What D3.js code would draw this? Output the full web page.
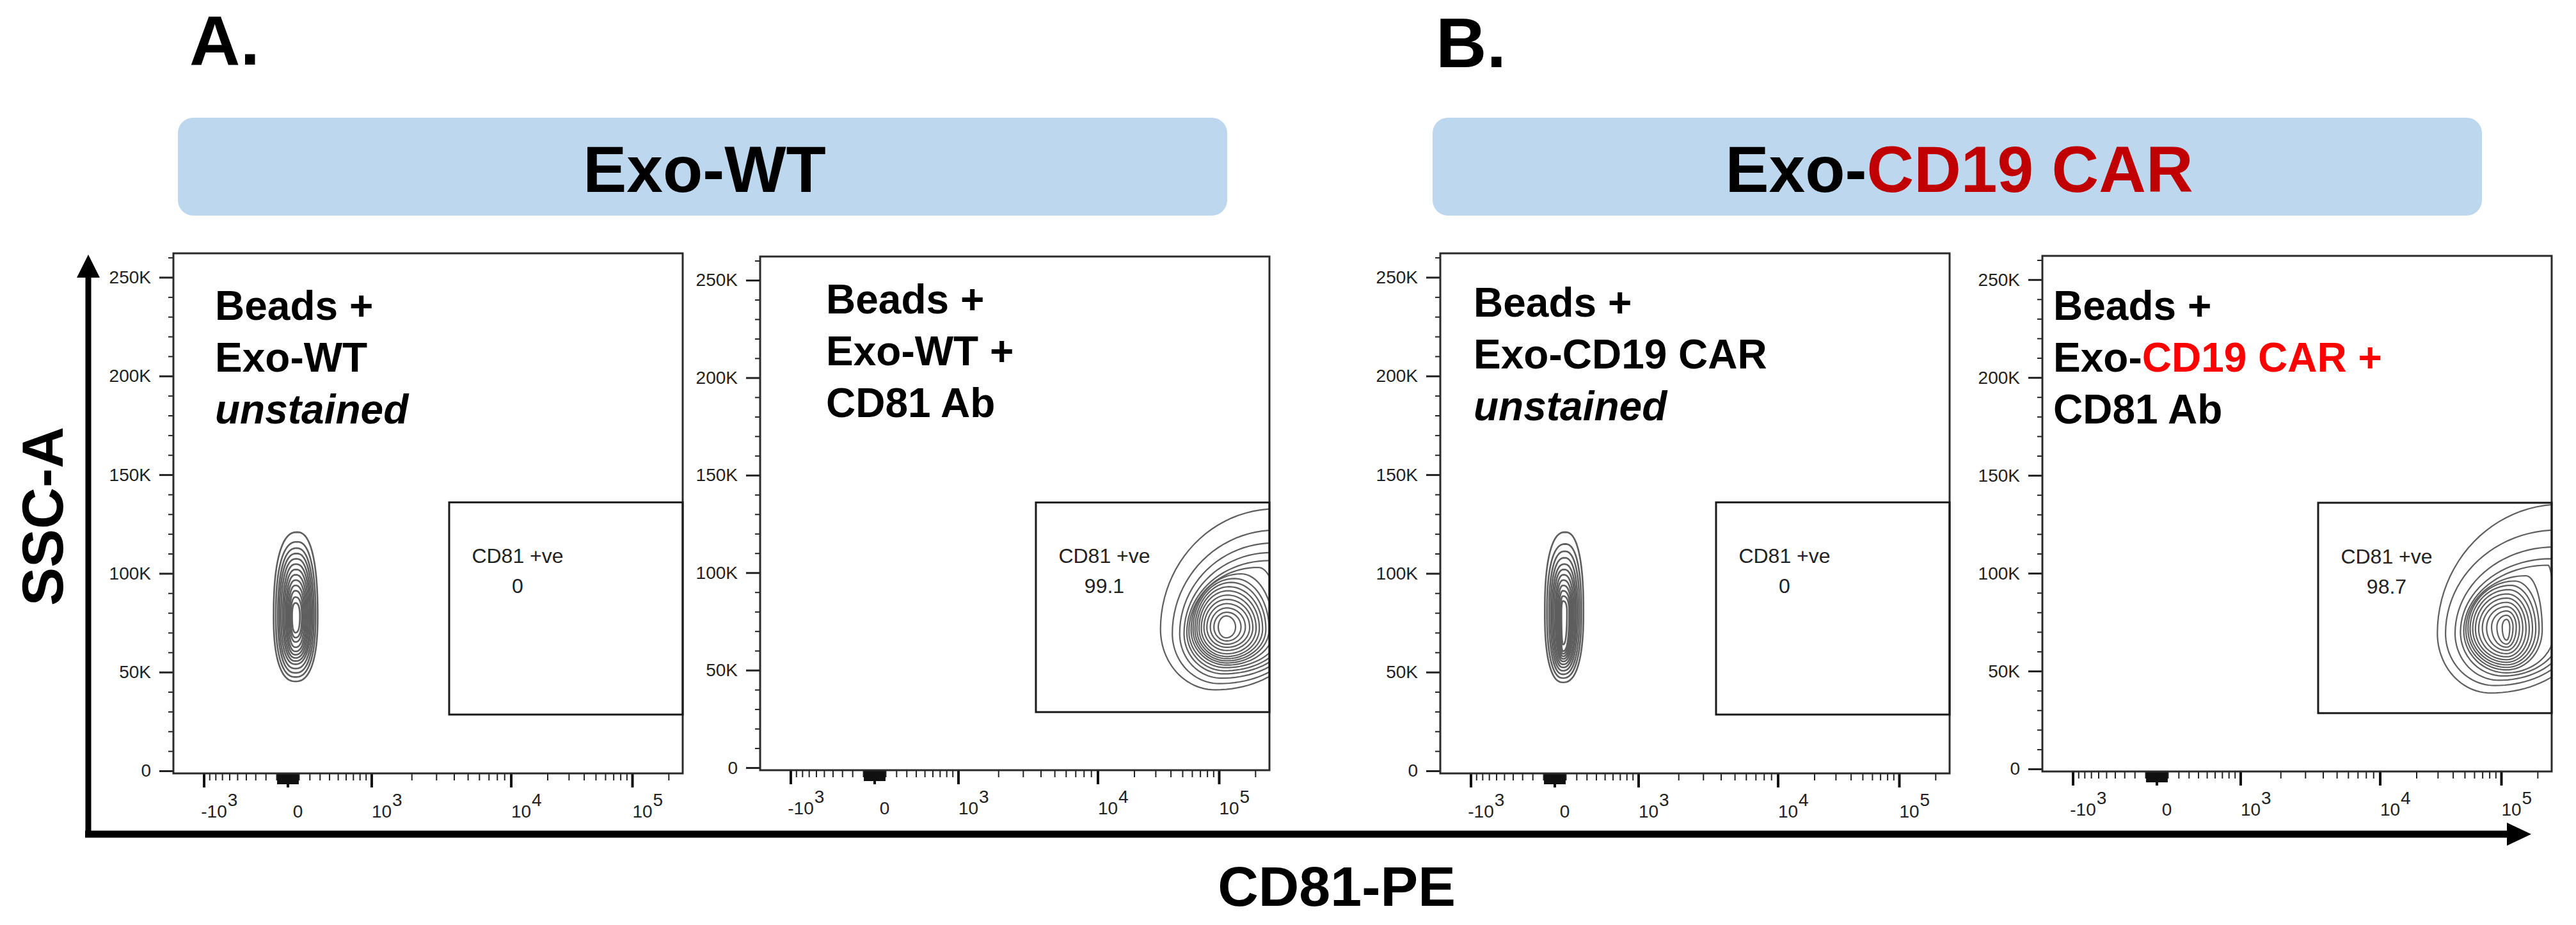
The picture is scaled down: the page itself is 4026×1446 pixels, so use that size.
<!DOCTYPE html>
<html>
<head>
<meta charset="utf-8">
<script src="https://cdn.jsdelivr.net/npm/d3@7"></script>
<style>
  html, body { margin: 0; padding: 0; background: #fff; }
  svg { display: block; font-family: "Liberation Sans", Arial, Helvetica, sans-serif; }
</style>
</head>
<body>
<div id="chart"></div>
<script>
// ---------- data ----------
const groupLetters = ['A.', 'B.'];
const headerMain = ['Exo-WT', 'Exo-'];
const headerRed = ['', 'CD19 CAR'];

const sampleLines = [
  ['Beads +', 'Exo-WT', 'unstained'],
  ['Beads +', 'Exo-WT +', 'CD81 Ab'],
  ['Beads +', 'Exo-CD19 CAR', 'unstained'],
  ['Beads +', 'Exo-CD19 CAR +', 'CD81 Ab']
];
const redPart = [null, null, null, 'CD19 CAR +'];

const gateName = 'CD81 +ve';
const gatePercent = ['0', '99.1', '0', '98.7'];
const gateX = [3700, 262144];     // CD81-PE
const gateY = [28500, 136000];    // SSC-A

const yDomain = [-1300, 262144];
const yTicks = [0, 50000, 100000, 150000, 200000, 250000];
const yTickLabels = ['0', '50K', '100K', '150K', '200K', '250K'];

const xStops = [-1720, -1000, 0, 1000, 10000, 100000, 262144];
const xTicks = [-1000, 0, 1000, 10000, 100000];
const xTickBase = ['-10', '0', '10', '10', '10'];
const xTickExp = ['3', '', '3', '4', '5'];

// contour rings: [xLeft, xRight, yBottom, yTop, xAtTop, xAtBottom, yAtSides]
const wtUnstainedRings = [
  [-126, 279, 45300, 120900, 85, 71, 78300],
  [-106, 258, 47500, 116000, 85, 71, 78300],
  [-87, 241, 49600, 112800, 80, 71, 78300],
  [-73, 226, 51800, 110100, 80, 71, 78300],
  [-58, 212, 54000, 107400, 78, 71, 78300],
  [-42, 200, 55600, 104700, 75, 71, 78300],
  [-29, 187, 57200, 102000, 75, 71, 78300],
  [-15, 175, 58800, 99300, 72, 71, 78300],
  [-4, 163, 60500, 96600, 72, 71, 78300],
  [8, 151, 62600, 93900, 71, 71, 78300],
  [19, 139, 65300, 91200, 71, 71, 78300],
  [29, 128, 67500, 88000, 71, 71, 78300],
  [40, 110, 70000, 85000, 71, 71, 78300]
];
const wtStainedRings = [
  [33000, 483500, 39900, 132700, 294700, 92900, 71000],
  [41300, 445600, 43100, 121800, 294700, 100800, 68800],
  [47500, 410000, 45900, 115200, 282900, 105100, 68800],
  [51600, 377300, 48100, 110300, 271600, 109500, 68800],
  [54400, 347500, 49700, 106200, 260400, 111700, 69400],
  [56600, 319900, 51300, 102700, 212000, 114100, 69900],
  [59000, 282900, 52600, 99400, 152400, 116500, 70500],
  [61200, 260400, 53700, 97000, 134500, 116500, 71000],
  [63500, 244800, 54800, 95000, 126400, 116500, 71000],
  [65900, 230100, 55900, 92800, 121300, 116500, 71200],
  [68600, 216300, 57000, 90700, 118900, 116500, 71500],
  [71600, 203300, 58400, 88500, 117900, 116500, 71500],
  [75300, 191000, 60100, 86300, 117000, 116500, 71800],
  [79600, 179700, 61700, 84100, 116500, 116500, 71900],
  [85000, 165600, 63300, 81900, 116500, 116500, 72100],
  [91000, 152400, 65000, 79700, 116500, 116500, 72100],
  [98800, 137400, 66600, 77800, 115000, 115000, 72100]
];
const carUnstainedRings = [
  [-87, 268, 44800, 120900, 96, 77, 80400],
  [-67, 247, 47000, 114900, 96, 77, 80400],
  [-48, 229, 48900, 111200, 92, 77, 80400],
  [-33, 212, 50700, 107900, 90, 77, 80400],
  [-19, 198, 52400, 104700, 88, 77, 80400],
  [-6, 186, 53900, 102000, 85, 77, 80400],
  [8, 173, 55400, 99300, 82, 77, 80400],
  [19, 161, 56700, 96600, 80, 77, 80400],
  [31, 151, 58000, 93900, 78, 77, 80400],
  [42, 141, 59300, 91200, 77, 77, 80400],
  [54, 132, 60600, 88500, 77, 77, 80400],
  [62, 112, 64000, 86000, 77, 77, 80400]
];
const carStainedRings = [
  [29800, 453000, 38800, 135200, 312000, 81700, 69300],
  [34800, 400000, 42600, 122100, 294000, 88500, 69300],
  [41700, 353000, 45300, 113400, 276000, 96000, 69300],
  [46200, 312000, 47500, 107400, 259000, 104200, 69900],
  [49200, 276000, 49100, 104100, 244000, 110900, 70500],
  [51200, 218800, 50600, 98700, 160000, 110900, 71000],
  [53300, 206100, 51900, 96000, 130000, 110900, 71500],
  [55500, 193500, 53200, 93800, 120000, 110900, 71500],
  [58300, 181900, 54500, 91600, 115000, 110900, 71500],
  [61400, 170900, 55800, 89400, 112000, 110900, 71500],
  [65300, 160700, 57300, 87300, 111000, 110900, 71500],
  [70000, 151000, 58900, 85100, 110900, 110900, 72000],
  [75900, 141900, 60600, 82900, 110900, 110900, 72000],
  [83400, 133400, 62200, 80700, 110900, 110900, 72500],
  [92300, 125400, 63800, 78500, 110900, 110900, 72500],
  [102100, 117900, 65800, 76400, 110900, 110900, 72500]
];
const panelRings = [wtUnstainedRings, wtStainedRings, carUnstainedRings, carStainedRings];

// ---------- layout ----------
const W = 4026, H = 1446;
const panelLeft = [271, 1188, 2251, 3192];
const panelTop = [396, 401, 396, 400];
const panelHeight = [813, 803, 813, 806];
const panelWidth = 796;
const xStopPx = [0, 47.5, 178.5, 309.5, 527.5, 717, 796];
const textLeft = [65, 103, 52, 17];
const textTop = [104, 89, 99, 100];
const ringShape = [2.4, 2, 2.4, 2];   // superellipse exponent per panel
const ringWidth = [2.6, 2.2, 2.6, 2.2];

const svg = d3.select('#chart').append('svg')
  .attr('width', W)
  .attr('height', H);

// Group letters
const letterX = [296, 2244];
const letterY = [101, 105];
groupLetters.forEach((t, i) => {
  svg.append('text')
    .attr('x', letterX[i])
    .attr('y', letterY[i])
    .attr('font-size', 110)
    .attr('font-weight', 'bold')
    .attr('fill', '#000')
    .text(t);
});

// Header boxes
const boxX = [278, 2239];
const boxW = 1640;
headerMain.forEach((t, i) => {
  svg.append('rect')
    .attr('x', boxX[i])
    .attr('y', 184)
    .attr('width', boxW)
    .attr('height', 153)
    .attr('rx', 24)
    .attr('fill', '#bdd7ee');

  const txt = svg.append('text')
    .attr('x', boxX[i] + boxW / 2 + 3)
    .attr('y', 300)
    .attr('text-anchor', 'middle')
    .attr('font-size', 102)
    .attr('font-weight', 'bold');
  txt.append('tspan').attr('fill', '#000').text(t);
  if (headerRed[i]) txt.append('tspan').attr('fill', '#c00000').text(headerRed[i]);
});

// Big axis arrows
svg.append('line')
  .attr('x1', 138).attr('y1', 1309)
  .attr('x2', 138).attr('y2', 430)
  .attr('stroke', '#000').attr('stroke-width', 9);
svg.append('path')
  .attr('d', 'M120,434 L156,434 L138,398 Z')
  .attr('fill', '#000');
svg.append('line')
  .attr('x1', 133).attr('y1', 1304)
  .attr('x2', 3922).attr('y2', 1304)
  .attr('stroke', '#000').attr('stroke-width', 11);
svg.append('path')
  .attr('d', 'M3918,1286 L3918,1322 L3956,1304 Z')
  .attr('fill', '#000');

svg.append('text')
  .attr('transform', 'translate(98,807) rotate(-90)')
  .attr('text-anchor', 'middle')
  .attr('font-size', 90)
  .attr('font-weight', 'bold')
  .text('SSC-A');

svg.append('text')
  .attr('x', 2089)
  .attr('y', 1416)
  .attr('text-anchor', 'middle')
  .attr('font-size', 88)
  .attr('font-weight', 'bold')
  .text('CD81-PE');

// biexponential-like transform for the CD81-PE axis
const biex = v => Math.asinh(v / 550);

const mantissas = [2, 3, 4, 5, 6, 7, 8, 9];
const xMinor = [];
[1000, 10000].forEach(d => mantissas.forEach(m => xMinor.push(m * d)));
xMinor.push(200000);
[100, 10].forEach(d => [1].concat(mantissas).forEach(m => {
  if (m * d !== 1000 && m * d !== 100) { xMinor.push(m * d); xMinor.push(-m * d); }
}));
xMinor.push(100, -100);
const xMinorOuter = xMinor.filter(v => Math.abs(v) >= 100);
const xMinorInner = xMinor.filter(v => Math.abs(v) < 100);
const yMinor = d3.range(10000, 270000, 10000).filter(v => v % 50000 !== 0);

function drawPanel(i) {
  const h = panelHeight[i];
  const g = svg.append('g')
    .attr('transform', `translate(${panelLeft[i]}, ${panelTop[i]})`);

  const y = d3.scaleLinear().domain(yDomain).range([h, 0]);
  const xLin = d3.scaleLinear().domain(xStops.map(biex)).range(xStopPx);
  const x = v => xLin(biex(v));

  // Y axis (major + minor)
  const yAx = g.append('g')
    .call(d3.axisLeft(y).tickValues(yTicks)
      .tickFormat((d, k) => yTickLabels[k]).tickSize(22).tickPadding(13));
  const yMin = g.append('g')
    .call(d3.axisLeft(y).tickValues(yMinor).tickFormat('').tickSize(8));
  yAx.selectAll('line').attr('stroke', '#222').attr('stroke-width', 3);
  yMin.selectAll('line').attr('stroke', '#222').attr('stroke-width', 2);
  yAx.selectAll('text')
    .attr('font-size', 28)
    .attr('font-family', '"Liberation Sans", Arial, sans-serif')
    .attr('fill', '#222');

  // X axis (major + minor)
  const xAx = g.append('g')
    .attr('transform', `translate(0, ${h})`)
    .call(d3.axisBottom(xLin).tickValues(xTicks.map(biex)).tickFormat('').tickSize(22));
  const xMinA = g.append('g')
    .attr('transform', `translate(0, ${h})`)
    .call(d3.axisBottom(xLin).tickValues(xMinorOuter.map(biex)).tickFormat('').tickSize(11));
  const xMinB = g.append('g')
    .attr('transform', `translate(0, ${h})`)
    .call(d3.axisBottom(xLin).tickValues(xMinorInner.map(biex)).tickFormat('').tickSize(17));
  xAx.selectAll('line').attr('stroke', '#111').attr('stroke-width', 4);
  xMinA.selectAll('line').attr('stroke', '#222').attr('stroke-width', 2);
  xMinB.selectAll('line').attr('stroke', '#111').attr('stroke-width', 2.5);
  [yAx, yMin, xAx, xMinA, xMinB].forEach(a => a.select('.domain').remove());

  xTicks.forEach((v, k) => {
    const cx = x(v) + 16;
    const base = g.append('text')
      .attr('x', cx)
      .attr('y', h + 69)
      .attr('text-anchor', 'middle')
      .attr('font-size', 28)
      .attr('fill', '#222')
      .text(xTickBase[k]);
    if (xTickExp[k]) {
      const bw = base.node().getComputedTextLength();
      g.append('text')
        .attr('x', cx + bw / 2 + 1)
        .attr('y', h + 51)
        .attr('font-size', 28)
        .attr('fill', '#222')
        .text(xTickExp[k]);
    }
  });

  // contours
  g.append('clipPath').attr('id', `clip${i}`)
    .append('rect').attr('width', panelWidth).attr('height', h);

  const p = ringShape[i];
  const ringPath = r => {
    const [xl, xr, yb, yt, xt, xb, ym] = r;
    const L = x(xl), R = x(xr), T = x(xt), B = x(xb);
    const pyT = y(yt), pyB = y(yb), pyM = y(ym);
    const e = 2 / p, n = 24;
    const c = f => Math.pow(Math.max(0, Math.cos(f)), e);
    const s = f => Math.pow(Math.max(0, Math.sin(f)), e);
    const pts = [];
    for (let k = 0; k < n; k++) { const f = k / n * Math.PI / 2; pts.push([T - (T - L) * c(f), pyM - (pyM - pyT) * s(f)]); }
    for (let k = 0; k < n; k++) { const f = k / n * Math.PI / 2; pts.push([T + (R - T) * s(f), pyM - (pyM - pyT) * c(f)]); }
    for (let k = 0; k < n; k++) { const f = k / n * Math.PI / 2; pts.push([B + (R - B) * c(f), pyM + (pyB - pyM) * s(f)]); }
    for (let k = 0; k < n; k++) { const f = k / n * Math.PI / 2; pts.push([B - (B - L) * s(f), pyM + (pyB - pyM) * c(f)]); }
    return d3.line().curve(d3.curveLinearClosed)(pts);
  };

  g.append('g')
    .attr('clip-path', `url(#clip${i})`)
    .selectAll('path')
    .data(panelRings[i])
    .join('path')
    .attr('d', ringPath)
    .attr('fill', 'none')
    .attr('stroke', '#5e5e5e')
    .attr('stroke-width', ringWidth[i]);

  // frame
  g.append('rect')
    .attr('width', panelWidth)
    .attr('height', h)
    .attr('fill', 'none')
    .attr('stroke', '#2a2a2a')
    .attr('stroke-width', 3);

  // gate
  const gx0 = x(gateX[0]), gx1 = x(gateX[1]);
  const gy0 = y(gateY[1]), gy1 = y(gateY[0]);
  g.append('rect')
    .attr('x', gx0)
    .attr('y', gy0)
    .attr('width', gx1 - gx0)
    .attr('height', gy1 - gy0)
    .attr('fill', 'none')
    .attr('stroke', '#1a1a1a')
    .attr('stroke-width', 3);
  g.append('text')
    .attr('x', gx0 + 107)
    .attr('y', gy0 + 95)
    .attr('text-anchor', 'middle')
    .attr('font-size', 32)
    .attr('fill', '#222')
    .text(gateName);
  g.append('text')
    .attr('x', gx0 + 107)
    .attr('y', gy0 + 142)
    .attr('text-anchor', 'middle')
    .attr('font-size', 32)
    .attr('fill', '#222')
    .text(gatePercent[i]);

  // sample description
  sampleLines[i].forEach((line, k) => {
    const t = g.append('text')
      .attr('x', textLeft[i])
      .attr('y', textTop[i] + k * 81)
      .attr('font-size', 64)
      .attr('font-weight', 'bold')
      .attr('font-style', line === 'unstained' ? 'italic' : 'normal')
      .attr('fill', '#000');
    const red = redPart[i];
    if (red && line.endsWith(red)) {
      t.append('tspan').text(line.slice(0, line.length - red.length));
      t.append('tspan').attr('fill', '#ff0000').text(red);
    } else {
      t.text(line);
    }
  });
}

[0, 1, 2, 3].forEach(drawPanel);
</script>
</body>
</html>
